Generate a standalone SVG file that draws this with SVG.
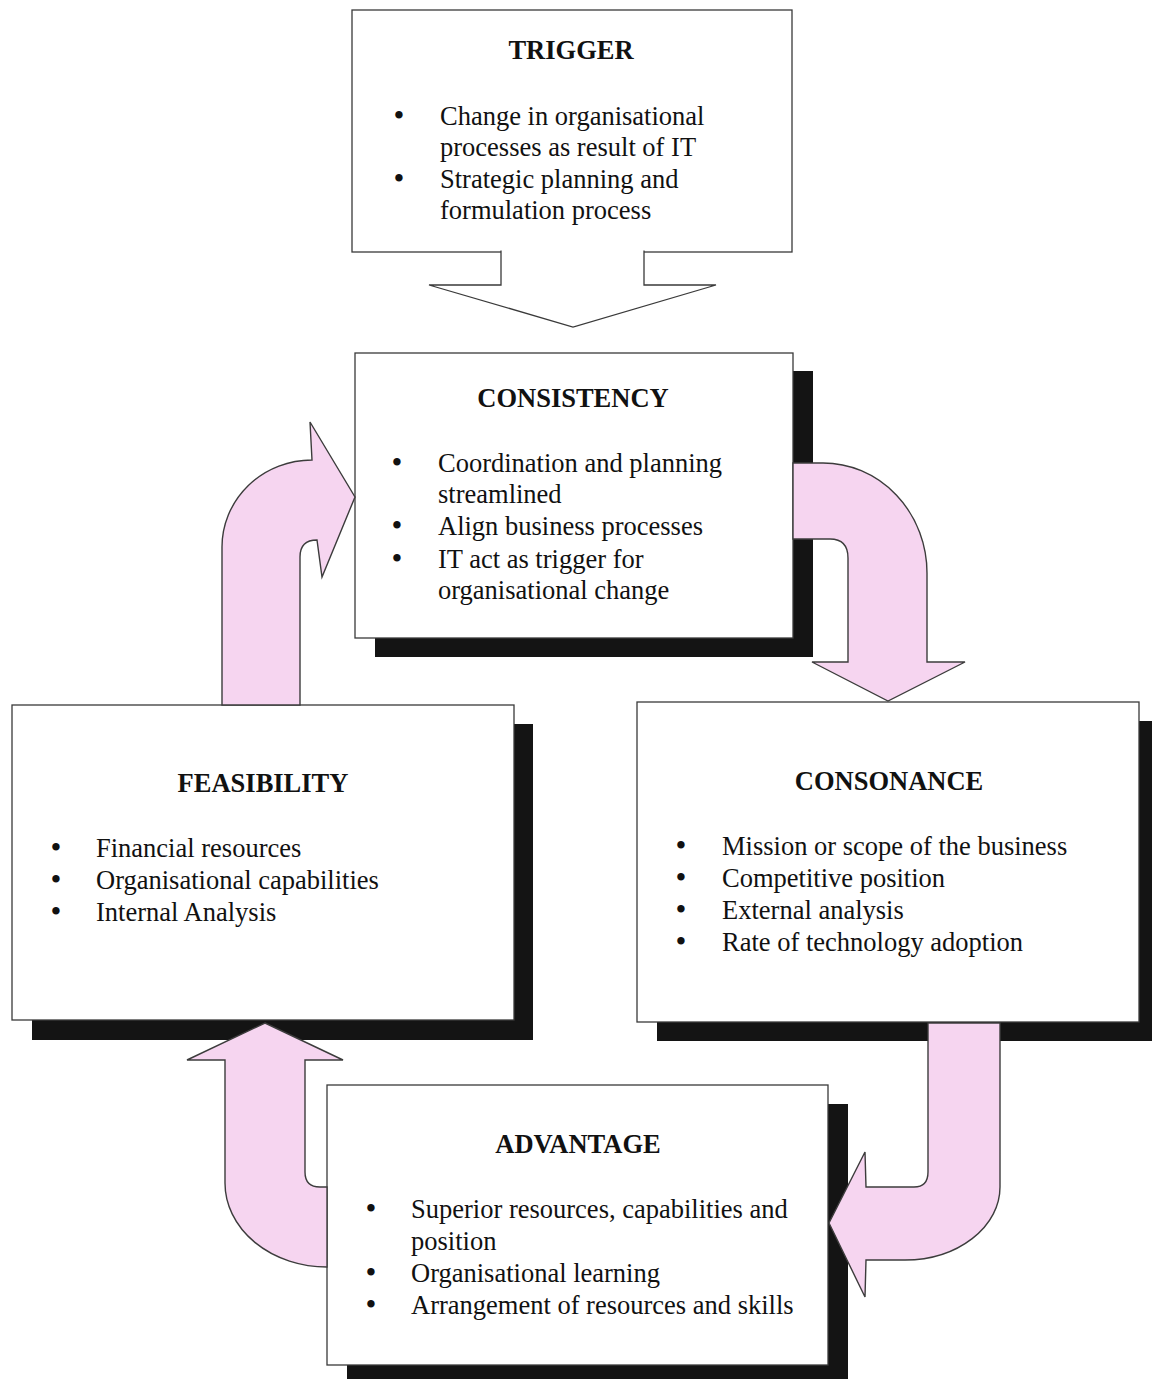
<svg xmlns="http://www.w3.org/2000/svg" width="1152" height="1379" viewBox="0 0 1152 1379">
<style>
  .shadow { fill: #141414; }
  .box { fill: #ffffff; stroke: #3a3a3a; stroke-width: 1.3; }
  .title { font-family: "Liberation Serif", "Times New Roman", serif; font-size: 26.5px; font-weight: bold; fill: #111; text-anchor: middle; }
  .body { font-family: "Liberation Serif", "Times New Roman", serif; font-size: 26.5px; fill: #111; }
  .bul { font-family: "Liberation Serif", "Times New Roman", serif; font-size: 31px; fill: #111; text-anchor: middle; }
  .pink { fill: #f6d5f0; stroke: #3c3c3c; stroke-width: 1.4; stroke-linejoin: miter; }
  .white-arrow { fill: #ffffff; stroke: #3a3a3a; stroke-width: 1.3; }
</style>
<rect x="0" y="0" width="1152" height="1379" fill="#ffffff"/>

<g id="trigger">
  <rect class="box" x="352" y="10" width="440" height="242"/>
  <text class="title" x="571" y="59">TRIGGER</text>
  <text class="bul" x="399" y="126">•</text>
  <text class="body" x="440" y="125">Change in organisational</text>
  <text class="body" x="440" y="156">processes as result of IT</text>
  <text class="bul" x="399" y="189">•</text>
  <text class="body" x="440" y="188">Strategic planning and</text>
  <text class="body" x="440" y="219">formulation process</text>
</g>

<g id="consistency">
  <rect class="shadow" x="375" y="371" width="438" height="286"/>
  <rect class="box" x="355" y="353" width="438" height="285"/>
  <text class="title" x="573" y="407">CONSISTENCY</text>
  <text class="bul" x="397" y="473">•</text>
  <text class="body" x="438" y="472">Coordination and planning</text>
  <text class="body" x="438" y="503">streamlined</text>
  <text class="bul" x="397" y="536">•</text>
  <text class="body" x="438" y="535">Align business processes</text>
  <text class="bul" x="397" y="569">•</text>
  <text class="body" x="438" y="568">IT act as trigger for</text>
  <text class="body" x="438" y="599">organisational change</text>
</g>

<g id="feasibility">
  <rect class="shadow" x="32" y="724" width="501" height="316"/>
  <rect class="box" x="12" y="705" width="502" height="315"/>
  <text class="title" x="263" y="792">FEASIBILITY</text>
  <text class="bul" x="56" y="858">•</text>
  <text class="body" x="96" y="857">Financial resources</text>
  <text class="bul" x="56" y="890">•</text>
  <text class="body" x="96" y="889">Organisational capabilities</text>
  <text class="bul" x="56" y="922">•</text>
  <text class="body" x="96" y="921">Internal Analysis</text>
</g>

<g id="consonance">
  <rect class="shadow" x="657" y="721" width="502" height="320"/>
  <rect class="box" x="637" y="702" width="502" height="320"/>
  <text class="title" x="889" y="790">CONSONANCE</text>
  <text class="bul" x="681" y="856">•</text>
  <text class="body" x="722" y="855">Mission or scope of the business</text>
  <text class="bul" x="681" y="888">•</text>
  <text class="body" x="722" y="887">Competitive position</text>
  <text class="bul" x="681" y="920">•</text>
  <text class="body" x="722" y="919">External analysis</text>
  <text class="bul" x="681" y="952">•</text>
  <text class="body" x="722" y="951">Rate of technology adoption</text>
</g>

<g id="advantage">
  <rect class="shadow" x="347" y="1104" width="501" height="285"/>
  <rect class="box" x="327" y="1085" width="501" height="280"/>
  <text class="title" x="578" y="1153">ADVANTAGE</text>
  <text class="bul" x="371" y="1219">•</text>
  <text class="body" x="411" y="1218">Superior resources, capabilities and</text>
  <text class="body" x="411" y="1250">position</text>
  <text class="bul" x="371" y="1283">•</text>
  <text class="body" x="411" y="1282">Organisational learning</text>
  <text class="bul" x="371" y="1315">•</text>
  <text class="body" x="411" y="1314">Arrangement of resources and skills</text>
</g>

<g id="connectors">
  <path id="trigger-to-consistency" class="white-arrow" d="M 501 250.5 L 501 285 L 429 285 L 573 327 L 716 285 L 644 285 L 644 250.5"/>
  <path id="feasibility-to-consistency" class="pink" d="M 222 705 L 222 547 A 90 87 0 0 1 312 460 L 310 422 L 355 497 L 322 577 L 317 540 Q 300 540 300 557 L 300 705 Z"/>
  <path id="consistency-to-consonance" class="pink" d="M 793 463 L 823 463 A 104 110 0 0 1 927 573 L 927 662 L 965 662 L 888 701 L 812 662 L 848 662 L 848 558 Q 848 539 830 539 L 793 539 Z"/>
  <path id="consonance-to-advantage" class="pink" d="M 928 1023 L 1000 1023 L 1000 1187 A 95 73 0 0 1 905 1260 L 866 1260 L 865 1297 L 829 1223 L 865 1152 L 866 1187 L 914 1187 Q 928 1187 928 1172 Z"/>
  <path id="advantage-to-feasibility" class="pink" d="M 265 1023 L 343 1060 L 305 1060 L 305 1172 Q 305 1187 320 1187 L 327 1187 L 327 1267 A 102 84 0 0 1 225 1183 L 225 1060 L 187 1060 Z"/>
</g>
</svg>
